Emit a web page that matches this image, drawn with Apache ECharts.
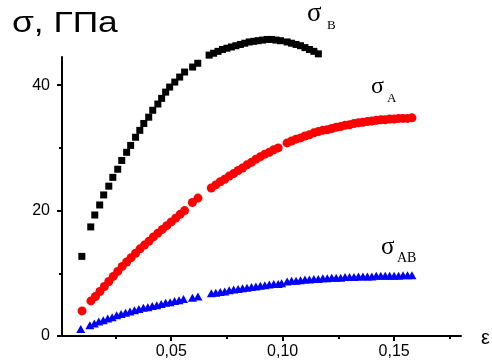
<!DOCTYPE html>
<html>
<head>
<meta charset="utf-8">
<script src="https://cdn.jsdelivr.net/npm/echarts@6/dist/echarts.min.js"></script>
<style>
  html, body { margin: 0; padding: 0; background: #fff; }
  #container { width: 492px; height: 363px; }
</style>
</head>
<body>
<div id="container"></div>
<script>
// sigma_B (black squares)
var epsB = [0.0099, 0.0139, 0.0157, 0.0179, 0.0197, 0.022, 0.0238, 0.026, 0.0278, 0.030, 0.0318, 0.034, 0.0359, 0.0377, 0.0399, 0.0417, 0.044, 0.0457, 0.0475, 0.0493, 0.0516, 0.0538, 0.056, 0.0596, 0.0619,
            0.067, 0.069, 0.071, 0.073, 0.075, 0.077, 0.079, 0.081, 0.083, 0.085, 0.087, 0.089, 0.091, 0.093, 0.095, 0.097, 0.099,
            0.102, 0.104, 0.106, 0.108, 0.110, 0.112, 0.114, 0.116];
var sigB = [12.7, 17.4, 19.3, 20.9, 22.5, 23.9, 25.3, 26.6, 28.0, 29.3, 30.4, 31.7, 32.8, 33.9, 34.9, 36.0, 37.0, 37.9, 38.9, 39.7, 40.5, 41.3, 42.1, 42.9, 43.5,
            44.8, 45.1, 45.4, 45.7, 45.9, 46.1, 46.3, 46.5, 46.7, 46.9, 47.0, 47.1, 47.2, 47.3, 47.3, 47.2, 47.1,
            46.9, 46.7, 46.5, 46.3, 46.0, 45.7, 45.4, 45.0];

// sigma_A (red circles)
var epsA = [0.010, 0.014, 0.016, 0.018, 0.020, 0.022, 0.024, 0.026, 0.028, 0.030, 0.032, 0.034, 0.036, 0.038, 0.040, 0.042, 0.044, 0.046, 0.048, 0.050, 0.052, 0.054, 0.056,
            0.0595, 0.062,
            0.068, 0.070, 0.072, 0.074, 0.076, 0.078, 0.080, 0.082, 0.084, 0.086, 0.088, 0.090, 0.092, 0.094, 0.096, 0.098,
            0.102, 0.104, 0.106, 0.108, 0.110, 0.112, 0.114, 0.116, 0.118, 0.120, 0.122, 0.124, 0.126, 0.128, 0.130, 0.132, 0.134, 0.136, 0.138, 0.140, 0.142, 0.144, 0.146, 0.148, 0.150, 0.152, 0.154, 0.156, 0.158];
var sigA = [4.0, 5.6, 6.3, 7.1, 7.9, 8.7, 9.5, 10.3, 11.1, 11.8, 12.5, 13.2, 13.9, 14.5, 15.1, 15.8, 16.4, 17.0, 17.6, 18.2, 18.8, 19.4, 20.0,
            21.3, 22.0,
            23.6, 24.1, 24.6, 25.0, 25.5, 25.9, 26.4, 26.8, 27.3, 27.7, 28.2, 28.6, 29.0, 29.3, 29.7, 30.0,
            30.8, 31.1, 31.4, 31.6, 31.9, 32.1, 32.4, 32.6, 32.8, 32.9, 33.1, 33.3, 33.4, 33.6, 33.7, 33.9, 34.0, 34.1, 34.2, 34.3, 34.4, 34.5, 34.5, 34.6, 34.6, 34.7, 34.7, 34.7, 34.8];

// sigma_AB (blue triangles)
var epsAB = [0.0094, 0.0135, 0.0155, 0.0175, 0.0195, 0.0215, 0.0235, 0.0255, 0.0275, 0.0295, 0.0315, 0.0335, 0.0355, 0.0375, 0.0395, 0.0415, 0.0435, 0.0455, 0.0475, 0.0495, 0.0515, 0.0535, 0.0555,
             0.0595, 0.062,
             0.068, 0.070, 0.072, 0.074, 0.076, 0.078, 0.080, 0.082, 0.084, 0.086, 0.088, 0.090, 0.092, 0.094, 0.096, 0.098, 0.0995,
             0.102, 0.104, 0.106, 0.108, 0.110, 0.112, 0.114, 0.116, 0.118, 0.120, 0.122, 0.124, 0.126, 0.128, 0.130, 0.132, 0.134, 0.136, 0.138, 0.140, 0.142, 0.144, 0.146, 0.148, 0.150, 0.152, 0.154, 0.156, 0.158];
var sigAB = [1.1, 1.7, 2.0, 2.3, 2.5, 2.8, 3.0, 3.3, 3.5, 3.7, 3.9, 4.1, 4.3, 4.5, 4.6, 4.8, 4.9, 5.1, 5.3, 5.4, 5.6, 5.7, 5.9,
             6.1, 6.3,
             6.8, 6.9, 7.0, 7.1, 7.3, 7.4, 7.5, 7.6, 7.7, 7.8, 7.9, 8.0, 8.1, 8.2, 8.3, 8.3, 8.4,
             8.7, 8.8, 8.8, 8.9, 9.0, 9.0, 9.1, 9.1, 9.2, 9.2, 9.3, 9.3, 9.3, 9.4, 9.4, 9.4, 9.5, 9.5, 9.5, 9.5, 9.6, 9.6, 9.6, 9.6, 9.6, 9.6, 9.7, 9.7, 9.7];

var xLabels = [0.05, 0.10, 0.15];
var xMinor = [0.025, 0.075, 0.125, 0.175];
var yLabels = [0, 20, 40];
var yMinor = [10, 30];

function pairs(xs, ys) {
    return xs.map(function (x, i) { return [x, ys[i]]; });
}

var sans = 'Liberation Sans, Arial, sans-serif';
var serif = 'Liberation Serif, Times New Roman, serif';
var lineStyle = { color: '#000', width: 2 };

var dom = document.getElementById('container');
var chart = echarts.init(dom);

chart.setOption({
    animation: false,
    backgroundColor: '#fff',
    grid: { left: 62, right: 31, top: 57, bottom: 27 },
    xAxis: [{
        type: 'value', min: 0.001, max: 0.18, position: 'bottom',
        axisLine: { lineStyle: lineStyle },
        axisTick: { customValues: xLabels, length: 5, lineStyle: lineStyle },
        axisLabel: {
            customValues: xLabels, margin: 8, fontSize: 16, color: '#000', fontFamily: sans,
            formatter: function (v) { return v.toFixed(2).replace('.', ','); }
        },
        splitLine: { show: false }
    }, {
        type: 'value', min: 0.001, max: 0.18, position: 'bottom',
        axisLine: { show: false },
        axisTick: { customValues: xMinor, length: 3, lineStyle: lineStyle },
        axisLabel: { show: false },
        splitLine: { show: false }
    }],
    yAxis: [{
        type: 'value', min: 0, max: 44.5, position: 'left',
        axisLine: { lineStyle: lineStyle },
        axisTick: { customValues: yLabels, length: 5, lineStyle: lineStyle },
        axisLabel: { customValues: yLabels, margin: 12, fontSize: 16, color: '#000', fontFamily: sans },
        splitLine: { show: false }
    }, {
        type: 'value', min: 0, max: 44.5, position: 'left',
        axisLine: { show: false },
        axisTick: { customValues: yMinor, length: 3, lineStyle: lineStyle },
        axisLabel: { show: false },
        splitLine: { show: false }
    }],
    series: [{
        type: 'scatter', name: 'sigmaAB', clip: false,
        symbol: 'triangle', symbolSize: [9, 8],
        itemStyle: { color: '#0000ff', opacity: 1 },
        data: pairs(epsAB, sigAB)
    }, {
        type: 'scatter', name: 'sigmaA', clip: false,
        symbol: 'circle', symbolSize: 9,
        itemStyle: { color: '#ff0000', opacity: 1 },
        data: pairs(epsA, sigA)
    }, {
        type: 'scatter', name: 'sigmaB', clip: false,
        symbol: 'rect', symbolSize: 7,
        itemStyle: { color: '#000', opacity: 1 },
        data: pairs(epsB, sigB)
    }],
    graphic: [
        { type: 'text', x: 12, y: 9, scaleX: 1.22, style: { text: 'σ, ГПа', font: '29px ' + sans, fill: '#000' } },
        { type: 'text', left: 481, top: 328, style: { text: 'ε', font: '20px ' + sans, fill: '#000' } },
        { type: 'text', left: 307, top: 0, style: { text: 'σ', font: '27px ' + serif, fill: '#000' } },
        { type: 'text', left: 327, top: 19, style: { text: 'B', font: '13px ' + serif, fill: '#000' } },
        { type: 'text', left: 371, top: 75, style: { text: 'σ', font: '24px ' + serif, fill: '#000' } },
        { type: 'text', left: 387, top: 92, style: { text: 'A', font: '13px ' + serif, fill: '#000' } },
        { type: 'text', left: 381, top: 235, style: { text: 'σ', font: '25px ' + serif, fill: '#000' } },
        { type: 'text', left: 397, top: 251, style: { text: 'AB', font: '14px ' + serif, fill: '#000' } }
    ]
});
</script>
</body>
</html>
